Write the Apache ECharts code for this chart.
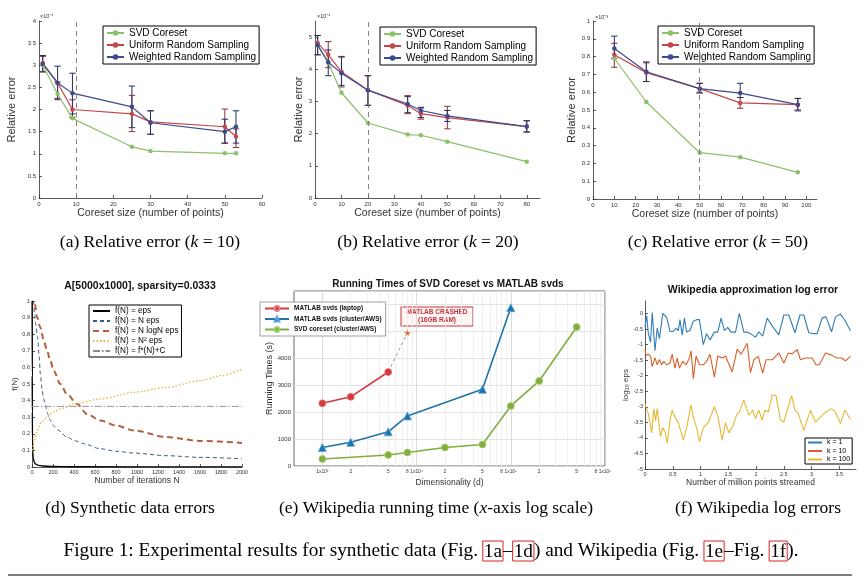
<!DOCTYPE html>
<html><head><meta charset="utf-8">
<script src="https://cdn.jsdelivr.net/npm/echarts@6/dist/echarts.min.js"></script>
<style>html,body{margin:0;padding:0;background:#fff}#c{width:867px;height:585px}</style>
</head><body><div id="c"></div><script>
// ---------- (a) k = 10 ----------
var xA = [1, 5, 9, 25, 30, 50, 53];
var svdA = [3.0, 2.35, 1.8, 1.16, 1.06, 1.01, 1.01];
var uniA = [3.05, 2.6, 2.0, 1.9, 1.72, 1.61, 1.39];
var wA = [3.03, 2.6, 2.37, 2.06, 1.7, 1.5, 1.61];
var uniALo = [2.85, 2.25, 1.82, 1.5, 1.44, 1.24, 1.14];
var uniAHi = [3.2, 2.62, 2.22, 2.32, 1.97, 2.01, 1.56];
var wALo = [2.85, 2.22, 1.9, 1.59, 1.44, 1.24, 1.24];
var wAHi = [3.22, 2.98, 2.82, 2.53, 1.97, 1.78, 1.97];
// ---------- (b) k = 20 ----------
var xB = [1, 5, 10, 20, 35, 40, 50, 80];
var svdB = [4.75, 4.2, 3.27, 2.33, 1.97, 1.95, 1.75, 1.13];
var uniB = [4.82, 4.45, 3.92, 3.35, 2.88, 2.62, 2.5, 2.22];
var wB = [4.75, 4.22, 3.88, 3.35, 2.92, 2.72, 2.55, 2.22];
var uniBLo = [4.45, 4.05, 3.45, 2.88, 2.62, 2.45, 2.15, 2.05];
var uniBHi = [5.05, 4.86, 4.4, 3.8, 3.18, 2.82, 2.85, 2.4];
var wBLo = [4.45, 3.8, 3.5, 2.88, 2.65, 2.5, 2.38, 2.05];
var wBHi = [5.05, 4.6, 4.38, 3.8, 3.15, 2.8, 2.72, 2.4];
// ---------- (c) k = 50 ----------
var xC = [10, 25, 50, 69, 96];
var svdC = [0.79, 0.545, 0.26, 0.235, 0.15];
var uniC = [0.81, 0.71, 0.62, 0.54, 0.53];
var wC = [0.845, 0.715, 0.62, 0.595, 0.53];
var uniCLo = [0.74, 0.66, 0.6, 0.51, 0.5];
var uniCHi = [0.875, 0.765, 0.65, 0.57, 0.565];
var wCLo = [0.79, 0.66, 0.595, 0.57, 0.495];
var wCHi = [0.915, 0.77, 0.65, 0.65, 0.565];
var kVals = [10, 20, 50];
var abcNames = ['SVD Coreset', 'Uniform Random Sampling', 'Weighted Random Sampling'];
// ---------- (d) synthetic ----------
var dEpsN = [1, 2, 3, 5, 8, 12, 20, 35, 60, 100, 200, 400, 2000];
var dEps = [1.0, 0.55, 0.33, 0.17, 0.09, 0.055, 0.03, 0.017, 0.01, 0.006, 0.003, 0.0015, 0.0003];
var dLinN = [16, 25, 35, 54, 66, 80, 95, 111, 127, 150, 175, 210, 254, 333, 410, 492, 650, 800, 970, 1285, 1600, 2000];
var dLin = [1.0, 0.92, 0.86, 0.78, 0.68, 0.56, 0.47, 0.41, 0.37, 0.32, 0.28, 0.245, 0.22, 0.18, 0.158, 0.14, 0.11, 0.095, 0.084, 0.068, 0.058, 0.05];
var dLogN = [30, 50, 80, 110, 143, 175, 206, 270, 333, 428, 524, 650, 800, 970, 1285, 1600, 2000];
var dLog = [0.98, 0.9, 0.84, 0.77, 0.7, 0.64, 0.58, 0.5, 0.44, 0.38, 0.32, 0.28, 0.25, 0.22, 0.18, 0.157, 0.145];
var dSqN = [5, 20, 48, 90, 143, 200, 270, 400, 650, 970, 1285, 1600, 1800, 2000];
var dSq = [0.1, 0.16, 0.22, 0.27, 0.3, 0.33, 0.35, 0.38, 0.41, 0.45, 0.48, 0.52, 0.55, 0.59];
var dConstN = [0, 2000];
var dConst = [0.365, 0.365];
var dNames = ['f(N) = eps', 'f(N) = N eps', 'f(N) = N logN eps', 'f(N) = N² eps', 'f(N) = f*(N)+C'];
// ---------- (e) running times ----------
var eRedX = [1000, 2000, 5000];
var eRedY = [2330, 2570, 3490];
var eBlueX = [1000, 2000, 5000, 8000, 50000, 100000];
var eBlueY = [690, 880, 1270, 1860, 2850, 5880];
var eGreenX = [1000, 5000, 8000, 20000, 50000, 100000, 200000, 500000];
var eGreenY = [260, 410, 500, 690, 800, 2230, 3160, 5160];
var eCrashX = [5000, 8000];
var eCrashY = [3490, 4950];
var eNames = ['MATLAB svds (laptop)', 'MATLAB svds (cluster/AWS)', 'SVD coreset (cluster/AWS)'];
var eLabelVals = [1e3, 2e3, 5e3, 8e3, 1e4, 2e4, 5e4, 8e4, 1e5, 2e5, 5e5, 8e5, 1e6];
var eLabelTxt = ['1x10³', '2', '5', '8', '1x10⁴', '2', '5', '8', '1x10⁵', '2', '5', '8', '1x10⁶'];
// ---------- (f) log errors ----------
var k1X = [0, 0.03, 0.06, 0.1, 0.13, 0.18, 0.22, 0.26, 0.32, 0.39, 0.45, 0.51, 0.56, 0.6, 0.63, 0.67, 0.71, 0.75, 0.81, 0.87, 0.93, 0.98, 1.05, 1.11, 1.17, 1.25, 1.31, 1.37, 1.43, 1.49, 1.55, 1.63, 1.70, 1.78, 1.84, 1.9, 1.99, 2.05, 2.12, 2.2, 2.29, 2.41, 2.5, 2.59, 2.7, 2.79, 2.86, 2.95, 3.04, 3.1, 3.19, 3.26, 3.36, 3.43, 3.52, 3.6, 3.7];
var k1Y = [-0.42, -0.08, -0.64, -0.92, 0.03, -1.2, -0.47, -0.81, 0, -0.13, -0.58, -0.58, -0.47, -0.55, -0.2, -0.7, -0.15, -0.6, -0.55, -0.25, -0.2, -0.2, -1.0, -0.65, -0.85, -0.6, -0.6, -0.15, -0.55, -0.45, -0.6, -0.6, 0.0, -0.6, -0.6, -0.65, -0.76, -0.59, -0.73, -0.15, -0.4, -0.69, -0.05, -0.05, -0.62, -0.05, -0.05, -0.62, -0.65, -0.65, -0.15, -0.11, -0.59, -0.11, -0.02, -0.22, -0.56];
var k10X = [0, 0.02, 0.06, 0.1, 0.13, 0.18, 0.22, 0.26, 0.3, 0.34, 0.39, 0.45, 0.49, 0.54, 0.58, 0.62, 0.68, 0.74, 0.8, 0.83, 0.87, 0.92, 0.98, 1.05, 1.11, 1.17, 1.25, 1.31, 1.39, 1.45, 1.57, 1.66, 1.73, 1.84, 1.9, 1.96, 2.04, 2.12, 2.18, 2.29, 2.41, 2.5, 2.58, 2.65, 2.74, 2.8, 2.89, 3.01, 3.08, 3.14, 3.25, 3.36, 3.45, 3.54, 3.61, 3.7];
var k10Y = [-1.15, -1.35, -1.31, -1.37, -1.71, -1.43, -1.65, -1.48, -1.65, -1.54, -1.65, -1.6, -1.31, -1.76, -1.43, -1.76, -1.54, -1.65, -1.43, -1.2, -2.1, -1.37, -1.65, -1.65, -1.54, -1.31, -2.04, -1.37, -1.43, -1.37, -1.88, -1.15, -1.31, -0.96, -1.9, -1.49, -1.38, -1.92, -1.49, -1.49, -1.27, -1.59, -1.27, -1.3, -1.16, -1.49, -1.43, -1.43, -1.65, -1.65, -1.27, -1.34, -1.43, -1.43, -1.52, -1.38];
var k100X = [0, 0.06, 0.12, 0.16, 0.19, 0.22, 0.25, 0.28, 0.32, 0.36, 0.4, 0.45, 0.49, 0.54, 0.6, 0.63, 0.69, 0.75, 0.83, 0.87, 0.93, 0.98, 1.05, 1.14, 1.25, 1.31, 1.39, 1.45, 1.51, 1.58, 1.66, 1.7, 1.78, 1.87, 1.94, 1.99, 2.05, 2.11, 2.16, 2.22, 2.29, 2.36, 2.44, 2.5, 2.64, 2.7, 2.76, 2.86, 2.98, 3.07, 3.16, 3.25, 3.36, 3.43, 3.52, 3.6, 3.7];
var k100Y = [-2.92, -3.22, -3.84, -3.06, -3.45, -3.06, -3.06, -3.96, -3.67, -3.79, -4.18, -3.45, -3.11, -3.34, -3.51, -3.45, -4.07, -3.67, -2.94, -3.34, -3.67, -4.12, -3.67, -3.51, -3.0, -3.28, -4.07, -3.51, -3.84, -3.62, -3.22, -3.17, -2.78, -3.27, -3.11, -3.38, -3.11, -3.43, -3.11, -3.17, -2.62, -2.64, -3.43, -3.49, -2.64, -3.11, -3.22, -3.76, -3.11, -3.49, -3.33, -3.17, -3.06, -3.17, -3.54, -3.11, -3.4];
var fNames = ['k = 1', 'k = 10', 'k = 100'];
// ---------- texts ----------
var subCaps = [
  '(a) Relative error ({i|k} = 10)', '(b) Relative error ({i|k} = 20)', '(c) Relative error ({i|k} = 50)',
  '(d) Synthetic data errors', '(e) Wikipedia running time ({i|x}-axis log scale)', '(f) Wikipedia log errors'];
var figCap = 'Figure 1: Experimental results for synthetic data (Fig. {b|1a}–{b|1d}) and Wikipedia (Fig. {b|1e}–Fig. {b|1f}).';

// ---------- helpers ----------
var SANS = 'Liberation Sans, Arial, sans-serif';
var SERIF = 'Liberation Serif, Times New Roman, serif';
var AX = '#333';
function plain(v) { var n = Number(v); return String(Math.round(n * 1e6) / 1e6).replace(/,/g, ''); }
function pairs(xs, ys) { return xs.map(function (x, i) { return [x, ys[i]]; }); }
function triples(xs, lo, hi) { return xs.map(function (x, i) { return [x, lo[i], hi[i]]; }); }
function errBar(params, api) {
  var x = api.value(0), lo = api.value(1), hi = api.value(2);
  var a = api.coord([x, lo]), b = api.coord([x, hi]);
  var w = 3.2, st = { stroke: api.visual('color'), lineWidth: 1, fill: null };
  return { type: 'group', children: [
    { type: 'line', shape: { x1: a[0], y1: a[1], x2: b[0], y2: b[1] }, style: st },
    { type: 'line', shape: { x1: a[0] - w, y1: a[1], x2: a[0] + w, y2: a[1] }, style: st },
    { type: 'line', shape: { x1: b[0] - w, y1: b[1], x2: b[0] + w, y2: b[1] }, style: st }
  ] };
}
function lbl(fs, extra) { return Object.assign({ show: true, fontSize: fs, color: AX, margin: 3, fontFamily: SANS, formatter: plain }, extra || {}); }
function xAx(idx, o) {
  return Object.assign({ type: 'value', gridIndex: idx, nameLocation: 'middle',
    axisLine: { show: true, onZero: false, lineStyle: { color: AX, width: 0.8 } },
    axisTick: { show: true, inside: true, length: 3, lineStyle: { color: AX, width: 0.8 } },
    axisLabel: lbl(6),
    splitLine: { show: false },
    nameTextStyle: { fontSize: 10.5, color: '#333', fontFamily: SANS } }, o);
}
function yAx(idx, o) {
  return Object.assign({ type: 'value', gridIndex: idx, nameLocation: 'middle', nameRotate: 90,
    axisLine: { show: true, onZero: false, lineStyle: { color: AX, width: 0.8 } },
    axisTick: { show: true, inside: true, length: 3, lineStyle: { color: AX, width: 0.8 } },
    axisLabel: lbl(6),
    splitLine: { show: false },
    nameTextStyle: { fontSize: 11, color: '#333', fontFamily: SANS } }, o);
}
var GREEN = '#8cc06a', RED = '#c4474c', NAVY = '#3c4a8e', ERR_R = '#8e2f3e', ERR_B = '#262e5e';
function abcSeries(idx, xs, svd, uni, w, uLo, uHi, wLo, wHi, k) {
  var base = { type: 'line', xAxisIndex: idx, yAxisIndex: idx, symbol: 'circle', symbolSize: 4.5, z: 3 };
  return [
    Object.assign({}, base, { name: abcNames[0], data: pairs(xs, svd), lineStyle: { color: GREEN, width: 1.2 }, itemStyle: { color: GREEN },
      markLine: { silent: true, symbol: ['none', 'none'], label: { show: false }, lineStyle: { color: '#777', type: [5, 4], width: 0.9 }, data: [{ xAxis: k }] } }),
    { type: 'custom', xAxisIndex: idx, yAxisIndex: idx, renderItem: errBar, itemStyle: { color: ERR_R }, encode: { x: 0, y: [1, 2] }, data: triples(xs, uLo, uHi), z: 2 },
    { type: 'custom', xAxisIndex: idx, yAxisIndex: idx, renderItem: errBar, itemStyle: { color: ERR_B }, encode: { x: 0, y: [1, 2] }, data: triples(xs, wLo, wHi), z: 2 },
    Object.assign({}, base, { name: abcNames[1], data: pairs(xs, uni), lineStyle: { color: RED, width: 1.2 }, itemStyle: { color: RED } }),
    Object.assign({}, base, { name: abcNames[2], data: pairs(xs, w), lineStyle: { color: NAVY, width: 1.2 }, itemStyle: { color: NAVY } })
  ];
}
function abcLegend(left, top) {
  return { data: abcNames, orient: 'vertical', left: left, top: top, itemWidth: 17, itemHeight: 7, itemGap: 2,
    padding: [2, 3, 2, 3], borderColor: '#000', borderWidth: 1, backgroundColor: '#fff',
    textStyle: { fontSize: 10, color: '#000', fontFamily: SANS } };
}

var chart = echarts.init(document.getElementById('c'));
var series = [];
series = series.concat(abcSeries(0, xA, svdA, uniA, wA, uniALo, uniAHi, wALo, wAHi, kVals[0]));
series = series.concat(abcSeries(1, xB, svdB, uniB, wB, uniBLo, uniBHi, wBLo, wBHi, kVals[1]));
series = series.concat(abcSeries(2, xC, svdC, uniC, wC, uniCLo, uniCHi, wCLo, wCHi, kVals[2]));
// (d)
var dBase = { type: 'line', xAxisIndex: 3, yAxisIndex: 3, symbol: 'none', smooth: 0.3, smoothMonotone: 'x' };
series.push(Object.assign({}, dBase, { name: dNames[0], data: pairs(dEpsN, dEps), lineStyle: { color: '#000', width: 1.3 }, itemStyle: { color: '#000' } }));
series.push(Object.assign({}, dBase, { name: dNames[1], data: pairs(dLinN, dLin), lineStyle: { color: '#3d5a86', width: 1, type: [4, 3] }, itemStyle: { color: '#3d5a86' } }));
series.push(Object.assign({}, dBase, { name: dNames[2], data: pairs(dLogN, dLog), lineStyle: { color: '#b2603e', width: 2, type: [6, 4] }, itemStyle: { color: '#b2603e' } }));
series.push(Object.assign({}, dBase, { name: dNames[3], data: pairs(dSqN, dSq), lineStyle: { color: '#e3b53a', width: 1.3, type: [1.5, 2] }, itemStyle: { color: '#e3b53a' } }));
series.push(Object.assign({}, dBase, { name: dNames[4], data: pairs(dConstN, dConst), smooth: false, lineStyle: { color: '#8c8c8c', width: 0.9, type: [7, 2, 1.5, 2] }, itemStyle: { color: '#8c8c8c' } }));
// (e)
var eGrid = [];
[1e3, 1e4, 1e5].forEach(function (d) { for (var m = 1; m < 10; m++) eGrid.push(m * d); });
eGrid.push(1e6);
series.push({ type: 'line', xAxisIndex: 4, yAxisIndex: 4, data: [], silent: true, z: 0,
  markLine: { silent: true, z: 0, symbol: ['none', 'none'], animation: false,
    label: { show: false },
    data: eGrid.map(function (v) {
      var li = eLabelVals.indexOf(v);
      var major = (li >= 0 && eLabelTxt[li].indexOf('x') > 0);
      return { xAxis: v, lineStyle: { color: major ? '#d2d2d2' : '#ebebeb', width: 0.8, type: 'solid' },
        label: { show: li >= 0, position: 'start', distance: 3, formatter: li >= 0 ? eLabelTxt[li] : '', fontSize: 4.8, color: AX, fontFamily: SANS } };
    }) } });
series.push({ type: 'line', xAxisIndex: 4, yAxisIndex: 4, data: pairs(eCrashX, eCrashY), symbol: 'none', z: 3,
  lineStyle: { color: '#999', width: 1, type: [3, 3] },
  markPoint: { symbol: 'path://M50,0 L61,35 L98,35 L68,57 L79,91 L50,70 L21,91 L32,57 L2,35 L39,35 Z', symbolSize: 7, itemStyle: { color: '#e0703a' }, label: { show: false }, data: [{ coord: [eCrashX[1], eCrashY[1]] }] } });
var eBase = { type: 'line', xAxisIndex: 4, yAxisIndex: 4, z: 4 };
series.push(Object.assign({}, eBase, { name: eNames[0], data: pairs(eRedX, eRedY), symbol: 'circle', symbolSize: 7, lineStyle: { color: '#d3383f', width: 1.6 }, itemStyle: { color: '#d3383f', borderColor: '#e87a7e', borderWidth: 0.8 } }));
series.push(Object.assign({}, eBase, { name: eNames[1], data: pairs(eBlueX, eBlueY), symbol: 'triangle', symbolSize: 8, lineStyle: { color: '#1e73ab', width: 1.6 }, itemStyle: { color: '#1e73ab', borderColor: '#5aa6d6', borderWidth: 0.8 } }));
series.push(Object.assign({}, eBase, { name: eNames[2], data: pairs(eGreenX, eGreenY), symbol: 'circle', symbolSize: 7, lineStyle: { color: '#7fae3e', width: 1.6 }, itemStyle: { color: '#7fae3e', borderColor: '#a9cf76', borderWidth: 0.8 } }));
// (f)
var fBase = { type: 'line', xAxisIndex: 5, yAxisIndex: 5, symbol: 'none' };
series.push(Object.assign({}, fBase, { name: fNames[0], data: pairs(k1X, k1Y), lineStyle: { color: '#2f7db6', width: 1.1 }, itemStyle: { color: '#2f7db6' } }));
series.push(Object.assign({}, fBase, { name: fNames[1], data: pairs(k10X, k10Y), lineStyle: { color: '#d6602c', width: 1.1 }, itemStyle: { color: '#d6602c' } }));
series.push(Object.assign({}, fBase, { name: fNames[2], data: pairs(k100X, k100Y), lineStyle: { color: '#e8b730', width: 1.1 }, itemStyle: { color: '#e8b730' } }));

function capText(txt, x, y) {
  return { type: 'text', x: x, y: y, style: { text: txt, fontFamily: SERIF, fontSize: 17.5, fill: '#000', align: 'center', verticalAlign: 'middle',
    rich: { i: { fontFamily: SERIF, fontSize: 17.5, fontStyle: 'italic', fill: '#000' } } } };
}
function smallText(txt, x, y, o) {
  return { type: 'text', x: x, y: y, style: Object.assign({ text: txt, fontFamily: SANS, fontSize: 5.5, fill: '#333', align: 'left', verticalAlign: 'middle' }, o || {}) };
}
function titleText(txt, x, y, fs) {
  return { type: 'text', x: x, y: y, style: { text: txt, fontFamily: SANS, fontWeight: 'bold', fontSize: fs, fill: '#111', align: 'center', verticalAlign: 'middle' } };
}

chart.setOption({
  animation: false,
  backgroundColor: '#fff',
  grid: [
    { left: 39, top: 21, width: 223, height: 177 },
    { left: 315, top: 21, width: 225, height: 177 },
    { left: 593, top: 21, width: 224, height: 178 },
    { left: 32, top: 301, width: 210, height: 166 },
    { left: 294, top: 291, width: 311, height: 175, show: true, borderColor: '#444', borderWidth: 0.8, backgroundColor: 'transparent' },
    { left: 645, top: 301, width: 211, height: 168 }
  ],
  xAxis: [
    xAx(0, { min: 0, max: 60, interval: 10, name: 'Coreset size (number of points)', nameGap: 9 }),
    xAx(1, { min: 0, max: 85, interval: 10, name: 'Coreset size (number of points)', nameGap: 9, axisLabel: lbl(6, { showMaxLabel: false }) }),
    xAx(2, { min: 0, max: 105, interval: 10, name: 'Coreset size (number of points)', nameGap: 8, axisLabel: lbl(6, { showMaxLabel: false }) }),
    xAx(3, { min: 0, max: 2000, interval: 200, name: 'Number of iterations N', nameGap: 5,
      axisLabel: { show: true, fontSize: 5.5, color: AX, margin: 2, fontFamily: SANS, formatter: function (v) { return '' + Math.round(+v); } },
      nameTextStyle: { fontSize: 8.5, color: '#333', fontFamily: SANS } }),
    { type: 'log', logBase: 10, gridIndex: 4, min: 500, max: 1000000, name: 'Dimensionality (d)', nameLocation: 'middle', nameGap: 12,
      nameTextStyle: { fontSize: 8.5, color: '#333', fontFamily: SANS },
      axisLine: { show: false }, axisTick: { show: false }, axisLabel: { show: false }, splitLine: { show: false }, minorTick: { show: false } },
    xAx(5, { min: 0, max: 3.8, interval: 0.5, name: 'Number of million points streamed', nameGap: 5, axisLabel: lbl(5.5, { margin: 2, showMaxLabel: false }), nameTextStyle: { fontSize: 8.5, color: '#333', fontFamily: SANS } })
  ],
  yAxis: [
    yAx(0, { min: 0, max: 4, interval: 0.5, name: 'Relative error', nameGap: 22 }),
    yAx(1, { min: 0, max: 5.5, interval: 1, name: 'Relative error', nameGap: 8, axisLabel: lbl(6, { showMaxLabel: false }) }),
    yAx(2, { min: 0, max: 1, interval: 0.1, name: 'Relative error', nameGap: 13 }),
    yAx(3, { min: 0, max: 1, interval: 0.1, name: 'f(N)', nameGap: 8, axisLabel: lbl(5.5, { margin: 2 }), nameTextStyle: { fontSize: 8, color: '#333', fontFamily: SANS } }),
    yAx(4, { min: 0, max: 6500, interval: 1000, name: 'Running Times (s)', nameGap: 19, axisLine: { show: false },
      axisTick: { show: false }, axisLabel: lbl(6, { showMaxLabel: false }),
      splitLine: { show: true, lineStyle: { color: '#dcdcdc', width: 0.8 } }, nameTextStyle: { fontSize: 9, color: '#333', fontFamily: SANS } }),
    yAx(5, { min: -5, max: 0.4, interval: 0.5, name: 'log₁₀ eps', nameGap: 14, axisLabel: lbl(5.5, { margin: 2, showMaxLabel: false }), nameTextStyle: { fontSize: 8, color: '#333', fontFamily: SANS } })
  ],
  legend: [
    abcLegend(103, 26), abcLegend(380, 27), abcLegend(658, 26),
    { data: dNames, orient: 'vertical', left: 89, top: 305, itemWidth: 17, itemHeight: 8, itemGap: 2, padding: [2, 3, 2, 3],
      itemStyle: { opacity: 0 },
      borderColor: '#000', borderWidth: 1, backgroundColor: '#fff', textStyle: { fontSize: 8.2, color: '#000', fontFamily: SANS } },
    { data: eNames, orient: 'vertical', left: 260, top: 302, itemWidth: 24, itemHeight: 6, itemGap: 3.5, padding: [3, 4, 3, 4],
      borderColor: '#888', borderWidth: 0.8, backgroundColor: '#fff', textStyle: { fontSize: 6.5, fontWeight: 'bold', color: '#111', fontFamily: SANS } },
    { data: fNames, orient: 'vertical', left: 805, top: 438, itemWidth: 14, itemHeight: 5, itemGap: 1.5, padding: [1, 2, 1, 2],
      itemStyle: { opacity: 0 },
      borderColor: '#000', borderWidth: 1, backgroundColor: '#fff', textStyle: { fontSize: 7, color: '#000', fontFamily: SANS } }
  ],
  series: series,
  graphic: [
    smallText('×10⁻⁴', 40, 16),
    smallText('×10⁻⁴', 317, 16),
    smallText('×10⁻³', 595, 17),
    titleText('A[5000x1000], sparsity=0.0333', 140, 286, 10.5),
    titleText('Running Times of SVD Coreset vs MATLAB svds', 448, 284, 10),
    titleText('Wikipedia approximation log error', 753, 290, 10.5),
    { type: 'group', x: 401, y: 307, children: [
      { type: 'rect', shape: { x: 0, y: 0, width: 72, height: 19 }, style: { fill: '#fff6f6', stroke: '#c8323a', lineWidth: 1 } },
      { type: 'text', x: 36, y: 9.5, style: { text: 'MATLAB CRASHED\n(16GB RAM)', fontFamily: SANS, fontWeight: 'bold', fontSize: 6.5, lineHeight: 8, fill: '#c8323a', align: 'center', verticalAlign: 'middle' } }
    ] },
    capText(subCaps[0], 150, 242), capText(subCaps[1], 428, 242), capText(subCaps[2], 718, 242),
    capText(subCaps[3], 130, 508), capText(subCaps[4], 436, 508), capText(subCaps[5], 758, 508),
    { type: 'text', x: 431, y: 551, style: { text: figCap, fontFamily: SERIF, fontSize: 19.3, fill: '#000', align: 'center', verticalAlign: 'middle',
      rich: { b: { fontFamily: SERIF, fontSize: 19.3, fill: '#000', borderColor: '#e02020', borderWidth: 1, padding: [1, 1, 0, 1] } } } },
    { type: 'line', shape: { x1: 8, y1: 575, x2: 852, y2: 575 }, style: { stroke: '#000', lineWidth: 1 } }
  ]
});
</script></body></html>
